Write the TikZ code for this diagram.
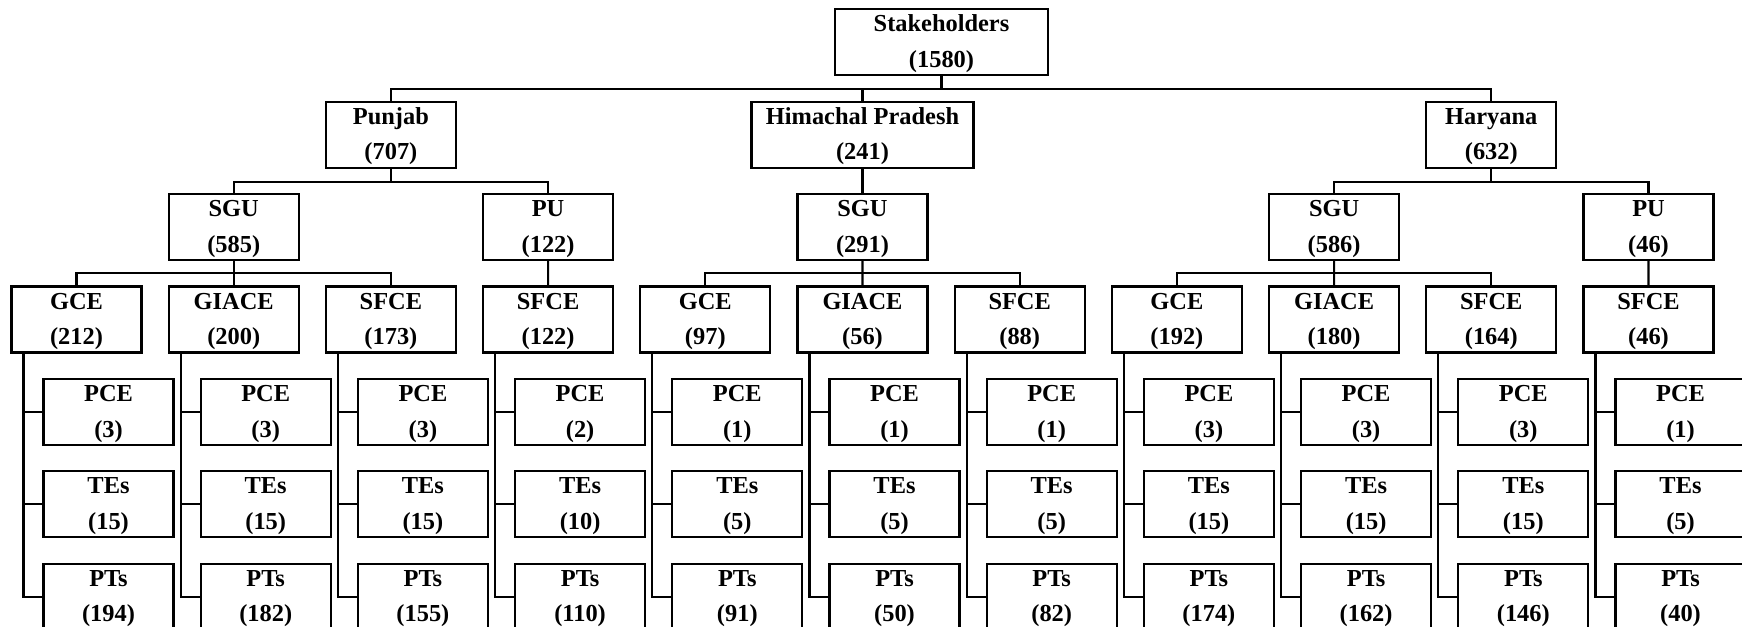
\documentclass[tikz,border=0pt]{standalone}
\usepackage{fontspec}
\setmainfont{Liberation Serif}
% two-line box label: name over (count), with fixed line extents
\newcommand\boxlabel[2]{\rule{0pt}{10.4pt}#1\\(#2)\rule[-3pt]{0pt}{3pt}}
\begin{document}
\begin{tikzpicture}[x=0.5pt,y=-0.5pt,
  box/.style={draw, line width=1.1pt, minimum width=65pt, minimum height=33pt,
    inner sep=0pt, align=center, font=\fontsize{12.2}{17.75}\selectfont\bfseries},
  link/.style={draw, line width=1.1pt, line cap=rect}]
\useasboundingbox (0,0) rectangle (1742,627);
\clip (0,0) rectangle (1742,627);

% bus heights between the levels
\coordinate (b0) at (0,89);
\coordinate (b1) at (0,182);
\coordinate (b2) at (0,273);

% root and states
\node[box, minimum width=106.5pt] (root) at (941.5,42.3) {\boxlabel{Stakeholders}{1580}};
\node[box] (pun) at (390.9,134.7) {\boxlabel{Punjab}{707}};
\node[box, minimum width=111pt] (hp) at (862.5,134.7) {\boxlabel{Himachal Pradesh}{241}};
\node[box] (har) at (1491.3,134.7) {\boxlabel{Haryana}{632}};

% universities
\node[box] (psgu) at (233.7,227.1) {\boxlabel{SGU}{585}};
\node[box] (ppu)  at (548.1,227.1) {\boxlabel{PU}{122}};
\node[box] (hsgu) at (862.5,227.1) {\boxlabel{SGU}{291}};
\node[box] (rsgu) at (1334.1,227.1) {\boxlabel{SGU}{586}};
\node[box] (rpu)  at (1648.5,227.1) {\boxlabel{PU}{46}};

% colleges with their stakeholder groups
\foreach \k/\nm/\n/\a/\b/\c in {
  0/GCE/212/3/15/194, 1/GIACE/200/3/15/182, 2/SFCE/173/3/15/155,
  3/SFCE/122/2/10/110, 4/GCE/97/1/5/91, 5/GIACE/56/1/5/50,
  6/SFCE/88/1/5/82, 7/GCE/192/3/15/174, 8/GIACE/180/3/15/162,
  9/SFCE/164/3/15/146, 10/SFCE/46/1/5/40} {
  \node[box] (c\k) at ({76.5+157.2*\k},319.5) {\boxlabel{\nm}{\n}};
  \node[box] (p\k) at ({108.5+157.2*\k},411.9) {\boxlabel{PCE}{\a}};
  \node[box] (t\k) at ({108.5+157.2*\k},504.3) {\boxlabel{TEs}{\b}};
  \node[box] (s\k) at ({108.5+157.2*\k},596.7) {\boxlabel{PTs}{\c}};
  \draw[link] ([xshift=6.5pt]c\k.south west) |- (p\k.west);
  \draw[link] ([xshift=6.5pt]c\k.south west) |- (t\k.west);
  \draw[link] ([xshift=6.5pt]c\k.south west) |- (s\k.west);
}

% root to states
\draw[link] (root.south) -- (root.south |- b0);
\draw[link] (pun.north) -- (pun.north |- b0) -| (har.north);
\draw[link] (hp.north) -- (hp.north |- b0);

% states to universities
\draw[link] (pun.south) -- (pun.south |- b1);
\draw[link] (psgu.north) -- (psgu.north |- b1) -| (ppu.north);
\draw[link] (hp.south) -- (hsgu.north);
\draw[link] (har.south) -- (har.south |- b1);
\draw[link] (rsgu.north) -- (rsgu.north |- b1) -| (rpu.north);

% universities to colleges
\draw[link] (psgu.south) -- (c1.north);
\draw[link] (c0.north) -- (c0.north |- b2) -| (c2.north);
\draw[link] (ppu.south) -- (c3.north);
\draw[link] (hsgu.south) -- (c5.north);
\draw[link] (c4.north) -- (c4.north |- b2) -| (c6.north);
\draw[link] (rsgu.south) -- (c8.north);
\draw[link] (c7.north) -- (c7.north |- b2) -| (c9.north);
\draw[link] (rpu.south) -- (c10.north);
\end{tikzpicture}
\end{document}
